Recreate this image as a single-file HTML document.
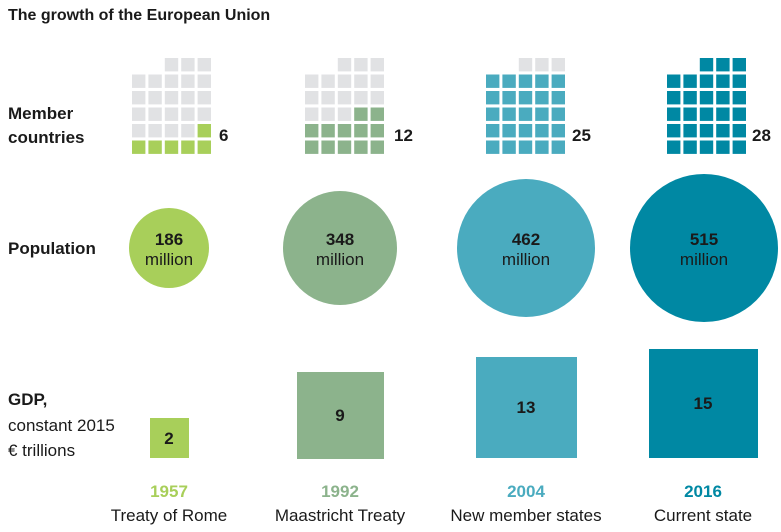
<!DOCTYPE html>
<html><head><style>
body{margin:0;background:#fff;font-family:"Liberation Sans",sans-serif;color:#1a1a1a}
.a{position:absolute;white-space:nowrap}
.b{font-weight:bold}
.c{transform:translateX(-50%);text-align:center}
</style></head><body>
<div style="position:relative;width:781px;height:532px;overflow:hidden">
<div class="a b" style="left:8px;top:7px;font-size:16px">The growth of the European Union</div>
<div class="a b" style="left:8px;top:102px;font-size:17px;line-height:24px">Member<br>countries</div>
<div class="a b" style="left:8px;top:239px;font-size:17px">Population</div>
<div class="a" style="left:8px;top:387px;font-size:17px;line-height:25.5px"><b>GDP,</b><br>constant 2015<br>€ trillions</div>
<svg class="a" style="left:0;top:0" width="781" height="532" font-family="Liberation Sans, sans-serif">
<g id="grids"></g>
<g font-weight="bold" font-size="17" fill="#1a1a1a">
<text x="219" y="141">6</text><text x="394" y="141">12</text><text x="572" y="141">25</text><text x="752" y="141">28</text>
</g>
<circle cx="169" cy="248" r="40" fill="#a8cf5a"/>
<circle cx="340" cy="248" r="57" fill="#8cb38c"/>
<circle cx="526" cy="248" r="69" fill="#4aabbf"/>
<circle cx="704" cy="248" r="74" fill="#0088a3"/>
<g font-size="17" text-anchor="middle" fill="#1a1a1a">
<text x="169" y="245" font-weight="bold">186</text><text x="169" y="265">million</text>
<text x="340" y="245" font-weight="bold">348</text><text x="340" y="265">million</text>
<text x="526" y="245" font-weight="bold">462</text><text x="526" y="265">million</text>
<text x="704" y="245" font-weight="bold">515</text><text x="704" y="265">million</text>
</g>
<rect x="150" y="418" width="39" height="40" fill="#a8cf5a"/>
<rect x="297" y="372" width="87" height="87" fill="#8cb38c"/>
<rect x="476" y="357" width="101" height="101" fill="#4aabbf"/>
<rect x="649" y="349" width="109" height="109" fill="#0088a3"/>
<g font-size="17" font-weight="bold" text-anchor="middle" fill="#1a1a1a">
<text x="169" y="444">2</text><text x="340" y="421">9</text><text x="526" y="413">13</text><text x="703" y="409">15</text>
</g>
<g font-size="17" font-weight="bold" text-anchor="middle">
<text x="169" y="497" fill="#a8cf5a">1957</text><text x="340" y="497" fill="#8cb38c">1992</text>
<text x="526" y="497" fill="#4aabbf">2004</text><text x="703" y="497" fill="#0088a3">2016</text>
</g>
<g font-size="17" text-anchor="middle" fill="#1a1a1a">
<text x="169" y="521">Treaty of Rome</text><text x="340" y="521">Maastricht Treaty</text>
<text x="526" y="521">New member states</text><text x="703" y="521">Current state</text>
</g>
</svg>
<script>
var g=document.getElementById('grids'),s='';
var cfg=[[132,6,'#a8cf5a'],[305,12,'#8cb38c'],[486,25,'#4aabbf'],[667,28,'#0088a3']];
cfg.forEach(function(c){
 var n=0;
 for(var r=5;r>=0;r--){
  var cols=r==0?[4,3,2]:[4,3,2,1,0];
  cols.forEach(function(col){
   n++;
   var col2=n<=c[1]?c[2]:'#e1e2e4';
   s+='<rect x="'+(c[0]+col*16.4).toFixed(1)+'" y="'+(58+r*16.5).toFixed(1)+'" width="13.4" height="13.4" fill="'+col2+'"/>';
  });
 }
});
g.innerHTML=s;
</script>
</div></body></html>
